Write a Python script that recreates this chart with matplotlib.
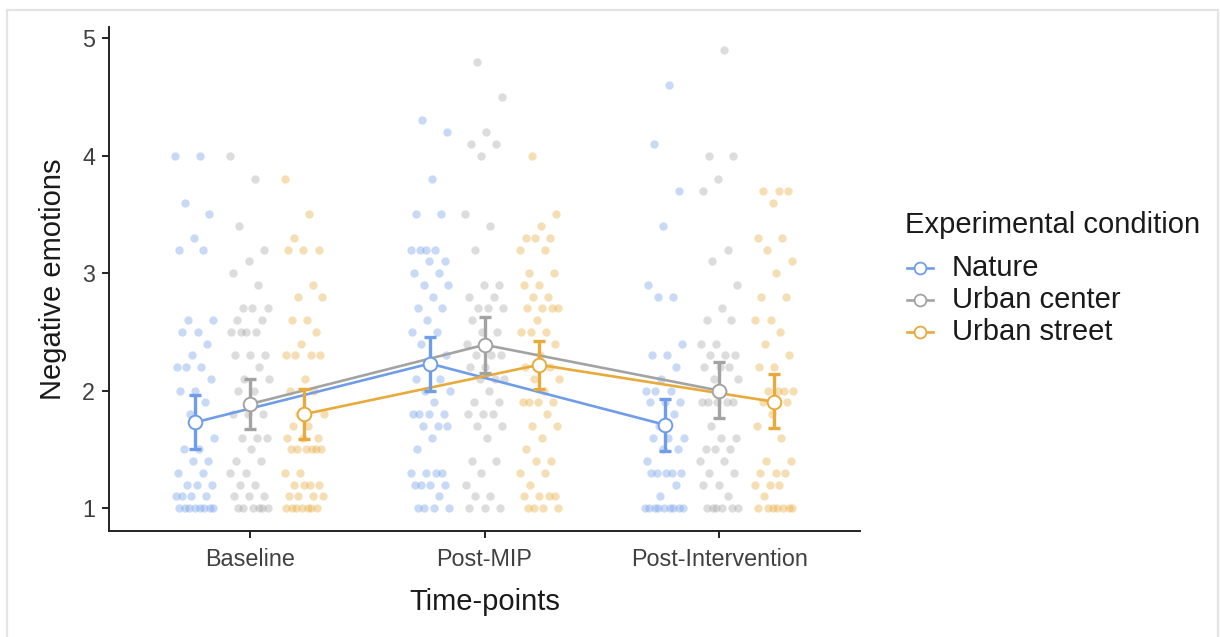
import numpy as np
import matplotlib
matplotlib.use("Agg")
import matplotlib.pyplot as plt
from matplotlib.lines import Line2D

plt.rcParams['font.family'] = ['Liberation Sans', 'DejaVu Sans']

timepoints = ["Baseline", "Post-MIP", "Post-Intervention"]
conditions = ["Nature", "Urban center", "Urban street"]
colors = {"Nature": "#6F9DE9", "Urban center": "#A3A3A3", "Urban street": "#E8AA3A"}

def rep(pairs):
    out = []
    for v, n in pairs:
        out += [v] * n
    return out

# individual scores (value, count)
nature_baseline = rep([(4.0, 2), (3.6, 1), (3.5, 1), (3.3, 1), (3.2, 2), (2.6, 2), (2.5, 2), (2.4, 1), (2.3, 1),
                       (2.2, 3), (2.1, 1), (2.0, 2), (1.9, 1), (1.8, 1), (1.6, 1), (1.5, 2), (1.4, 2), (1.3, 2),
                       (1.2, 3), (1.1, 4), (1.0, 8)])
center_baseline = rep([(4.0, 1), (3.8, 1), (3.4, 1), (3.2, 1), (3.1, 1), (3.0, 1), (2.9, 1), (2.7, 3), (2.6, 2),
                       (2.5, 4), (2.3, 3), (2.2, 1), (2.1, 2), (2.0, 2), (1.8, 3), (1.6, 3), (1.5, 1), (1.4, 2),
                       (1.3, 2), (1.2, 2), (1.1, 3), (1.0, 6)])
street_baseline = rep([(3.8, 1), (3.5, 1), (3.3, 1), (3.2, 3), (2.9, 1), (2.8, 2), (2.6, 2), (2.5, 1), (2.4, 1),
                       (2.3, 4), (2.1, 1), (2.0, 2), (1.8, 2), (1.7, 2), (1.6, 3), (1.5, 6), (1.3, 2), (1.2, 4),
                       (1.1, 4), (1.0, 7)])
nature_postmip = rep([(4.3, 1), (4.2, 1), (3.8, 1), (3.5, 2), (3.2, 4), (3.1, 2), (3.0, 2), (2.9, 2), (2.8, 1),
                      (2.7, 2), (2.6, 1), (2.5, 2), (2.4, 1), (2.3, 1), (2.2, 1), (2.1, 2), (2.0, 2), (1.9, 1),
                      (1.8, 4), (1.7, 3), (1.6, 1), (1.5, 1), (1.3, 4), (1.2, 4), (1.1, 1), (1.0, 4)])
center_postmip = rep([(4.8, 1), (4.5, 1), (4.2, 1), (4.1, 2), (4.0, 1), (3.5, 1), (3.4, 1), (3.2, 1), (2.9, 2),
                      (2.8, 2), (2.7, 3), (2.6, 1), (2.5, 2), (2.4, 1), (2.3, 3), (2.2, 2), (2.1, 3), (2.0, 1),
                      (1.9, 2), (1.8, 3), (1.7, 2), (1.6, 1), (1.4, 2), (1.3, 1), (1.2, 1), (1.1, 2), (1.0, 3)])
street_postmip = rep([(4.0, 1), (3.5, 1), (3.4, 1), (3.3, 3), (3.2, 2), (3.0, 2), (2.9, 2), (2.8, 2), (2.7, 4),
                      (2.6, 1), (2.5, 3), (2.4, 1), (2.3, 1), (2.2, 2), (2.1, 2), (2.0, 1), (1.9, 4), (1.8, 1),
                      (1.7, 2), (1.6, 1), (1.5, 1), (1.4, 2), (1.3, 2), (1.2, 1), (1.1, 4), (1.0, 4)])
nature_postint = rep([(4.6, 1), (4.1, 1), (3.7, 1), (3.4, 1), (2.9, 1), (2.8, 2), (2.4, 1), (2.3, 2), (2.2, 1),
                      (2.1, 1), (2.0, 3), (1.9, 3), (1.8, 1), (1.7, 1), (1.6, 3), (1.5, 2), (1.4, 1), (1.3, 5),
                      (1.2, 1), (1.1, 1), (1.0, 9)])
center_postint = rep([(4.9, 1), (4.0, 2), (3.8, 1), (3.7, 1), (3.2, 1), (3.1, 1), (2.9, 1), (2.7, 1), (2.6, 2),
                      (2.4, 2), (2.3, 3), (2.2, 3), (2.1, 2), (2.0, 1), (1.9, 5), (1.7, 1), (1.6, 2), (1.5, 3),
                      (1.4, 2), (1.3, 2), (1.2, 2), (1.1, 1), (1.0, 6)])
street_postint = rep([(3.7, 3), (3.6, 1), (3.3, 2), (3.2, 1), (3.1, 1), (3.0, 1), (2.8, 2), (2.6, 2), (2.5, 1),
                      (2.4, 1), (2.3, 1), (2.2, 2), (2.0, 4), (1.9, 2), (1.8, 1), (1.7, 1), (1.6, 1), (1.4, 2),
                      (1.3, 3), (1.2, 3), (1.1, 1), (1.0, 7)])

raw = {
    "Nature": [nature_baseline, nature_postmip, nature_postint],
    "Urban center": [center_baseline, center_postmip, center_postint],
    "Urban street": [street_baseline, street_postmip, street_postint],
}

# means and CI bounds
mean_nature = [1.73, 2.23, 1.71]
lo_nature = [1.50, 2.00, 1.49]
hi_nature = [1.96, 2.46, 1.93]
mean_center = [1.885, 2.39, 2.00]
lo_center = [1.67, 2.15, 1.77]
hi_center = [2.10, 2.63, 2.24]
mean_street = [1.80, 2.22, 1.905]
lo_street = [1.59, 2.01, 1.68]
hi_street = [2.01, 2.42, 2.14]

means = {"Nature": mean_nature, "Urban center": mean_center, "Urban street": mean_street}
los = {"Nature": lo_nature, "Urban center": lo_center, "Urban street": lo_street}
his = {"Nature": hi_nature, "Urban center": hi_center, "Urban street": hi_street}

W, H = 1220, 637
fig = plt.figure(figsize=(W / 100, H / 100), dpi=100)
ax = fig.add_axes([109 / W, 1 - 531 / H, (860 - 109) / W, (531 - 27) / H])

dodge = {"Nature": -0.233, "Urban center": 0.0, "Urban street": 0.233}
jit = 0.085
x_base = np.arange(1, len(timepoints) + 1)

for cond in conditions:
    c = colors[cond]
    for i, vals in enumerate(raw[cond]):
        vals = np.array(vals, dtype=float)
        n = len(vals)
        k = np.arange(n)
        offs = (((k * 0.6180339887 + 0.31 * i) % 1.0) - 0.5) * 2 * jit
        ax.scatter(x_base[i] + dodge[cond] + offs, vals, s=36, color=c, alpha=0.38,
                   linewidths=0, zorder=2)

for cond in conditions:
    c = colors[cond]
    xs = x_base + dodge[cond]
    m = np.array(means[cond])
    ax.plot(xs, m, color=c, lw=1.9, zorder=3)
    ax.errorbar(xs, m, yerr=[m - np.array(los[cond]), np.array(his[cond]) - m], fmt='none',
                ecolor=c, elinewidth=2.4, capsize=4.2, capthick=2.4, zorder=4)
    ax.plot(xs, m, linestyle='none', marker='o', markersize=9.8, markerfacecolor='white',
            markeredgecolor=c, markeredgewidth=1.4, zorder=5)

ax.set_xlim(0.4, 3.6)
ax.set_ylim(0.805, 5.095)
ax.set_xticks(x_base)
ax.set_xticklabels(timepoints)
ax.set_yticks([1, 2, 3, 4, 5])
ax.set_yticklabels(["1", "2", "3", "4", "5"])
for s in ["top", "right"]:
    ax.spines[s].set_visible(False)
for s in ["left", "bottom"]:
    ax.spines[s].set_color("#222222")
    ax.spines[s].set_linewidth(1.4)
ax.tick_params(axis='both', colors="#222222", length=5, width=1.4, labelsize=16.8,
               labelcolor="#404040")
ax.tick_params(axis='x', pad=7.5)
ax.tick_params(axis='y', pad=5)
ax.set_xlabel("Time-points", fontsize=21, color="#1a1a1a", labelpad=12)
ax.set_ylabel("Negative emotions", fontsize=21, color="#1a1a1a", labelpad=11)

# legend (manual)
fig.text(905 / W, 1 - 225 / H, "Experimental condition", fontsize=21, color="#1a1a1a",
         ha='left', va='center')
for j, cond in enumerate(conditions):
    yc = 1 - (268 + 32 * j) / H
    fig.add_artist(Line2D([907 / W, 933 / W], [yc, yc], transform=fig.transFigure,
                          color=colors[cond], lw=1.9))
    fig.add_artist(Line2D([920 / W], [yc], transform=fig.transFigure, marker='o',
                          markersize=8.5, markerfacecolor='white', markeredgecolor=colors[cond],
                          markeredgewidth=1.3, linestyle='none'))
    fig.text(952 / W, yc, cond, fontsize=21, color="#1a1a1a", ha='left', va='center')

# light frame (left, top, right)
fig.add_artist(Line2D([7 / W, 7 / W, 1218 / W, 1218 / W], [-0.01, 1 - 10 / H, 1 - 10 / H, -0.01],
                      transform=fig.transFigure, color="#e4e4e4", lw=1.6))

fig.savefig("out.png", dpi=100)
